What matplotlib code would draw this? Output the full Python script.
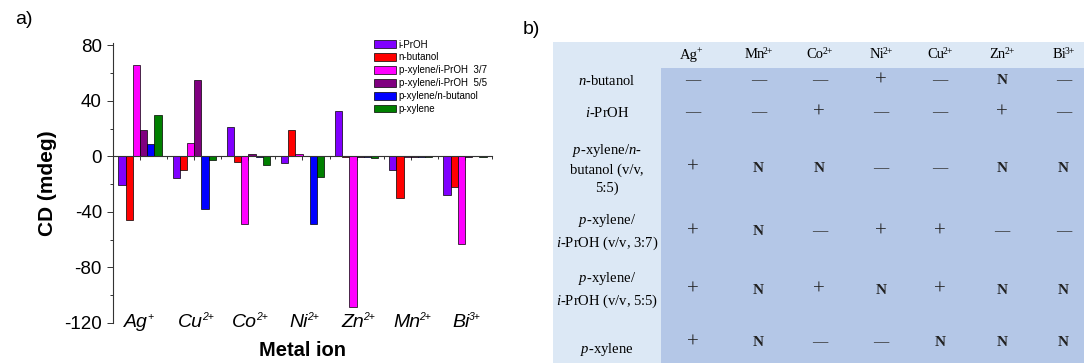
import numpy as np
import matplotlib
matplotlib.use('Agg')
import matplotlib.pyplot as plt
from matplotlib.patches import Rectangle

plt.rcParams['font.family'] = ['Liberation Sans', 'DejaVu Sans']
plt.rcParams['axes.unicode_minus'] = False
plt.rcParams['mathtext.fontset'] = 'custom'
plt.rcParams['mathtext.rm'] = 'Liberation Serif'
plt.rcParams['mathtext.it'] = 'Liberation Serif:italic'
plt.rcParams['mathtext.bf'] = 'Liberation Serif:bold'

# panel a data (CD, mdeg)
ions = ['Ag', 'Cu', 'Co', 'Ni', 'Zn', 'Mn', 'Bi']
charges = ['+', '2+', '2+', '2+', '2+', '2+', '3+']
series_names = ['i-PrOH', 'n-butanol', 'p-xylene/i-PrOH  3/7',
                'p-xylene/i-PrOH  5/5', 'p-xylene/n-butanol', 'p-xylene']
i_proh = [-21, -15.5, 21, -5, 32.5, -10, -28]
n_butanol = [-46, -10, -4, 19, -0.3, -30, -22]
px_iproh_37 = [66, 10, -48.5, 1.8, -109, -0.3, -63]
px_iproh_55 = [19, 55, 1.8, 0.3, -0.3, -0.3, -0.3]
px_nbutanol = [9, -38, -0.5, -48.5, -0.3, -0.3, 0.6]
p_xylene = [30, -2.6, -6.2, -15, -1, -0.3, -0.6]
series = [i_proh, n_butanol, px_iproh_37, px_iproh_55, px_nbutanol, p_xylene]
colors = ['#8000ff', '#ff0000', '#ff00ff', '#800080', '#0000ff', '#008000']

# panel b data
tab_ions = ['Ag', 'Mn', 'Co', 'Ni', 'Cu', 'Zn', 'Bi']
tab_charges = ['+', '2+', '2+', '2+', '2+', '2+', '3+']
tab_rows = ['$\\mathit{n}$-butanol',
            '$\\mathit{i}$-PrOH',
            '$\\mathit{p}$-xylene/$\\mathit{n}$-\nbutanol (v/v,\n5:5)',
            '$\\mathit{p}$-xylene/\n$\\mathit{i}$-PrOH (v/v, 3:7)',
            '$\\mathit{p}$-xylene/\n$\\mathit{i}$-PrOH (v/v, 5:5)',
            '$\\mathit{p}$-xylene']
tab_vals = [['-', '-', '-', '+', '-', 'N', '-'],
            ['-', '-', '+', '-', '-', '+', '-'],
            ['+', 'N', 'N', '-', '-', 'N', 'N'],
            ['+', 'N', '-', '+', '+', '-', '-'],
            ['+', 'N', '+', 'N', '+', 'N', 'N'],
            ['+', 'N', '-', '-', 'N', 'N', 'N']]

W, H = 1084, 363
fig = plt.figure(figsize=(W / 100, H / 100), dpi=100)

# ---- panel a ----
ax = fig.add_axes([113 / W, 1 - 322.7 / H, 379 / W, 280 / H])
x = np.arange(len(ions))
w = 0.133
for j, (vals, c, name) in enumerate(zip(series, colors, series_names)):
    ax.bar(x + (j - 2.5) * w, vals, width=w, color=c, edgecolor='black',
           linewidth=0.5, label=name, zorder=2)

ax.set_xlim(-0.5, 6.5)
ax.set_ylim(-120, 82)
ax.spines['top'].set_visible(False)
ax.spines['right'].set_visible(False)
ax.spines['bottom'].set_position(('data', 0))
for s in ['left', 'bottom']:
    ax.spines[s].set_color('#333333')
    ax.spines[s].set_linewidth(0.8)
ax.set_yticks([80, 40, 0, -40, -80, -120])
ax.set_yticks(np.arange(-100, 81, 40), minor=True)
ax.set_xticks(x)
ax.set_xticks(x + 0.5, minor=True)
ax.set_xticklabels([])
ax.tick_params(axis='y', which='major', length=4, width=0.7, labelsize=13.5, pad=4, color='#333333')
ax.tick_params(axis='y', which='minor', length=2.5, width=0.7, color='#333333')
ax.tick_params(axis='x', which='both', length=3, width=0.7, color='#333333')
ax.tick_params(axis='x', which='minor', length=2)
for i, (ion, ch) in enumerate(zip(ions, charges)):
    base = ax.text(i - 0.07, -120, ion, ha='center', va='center', fontsize=14, style='italic')
    ax.annotate(ch, xy=(1.0, 0.85), xycoords=base, xytext=(-0.8, 0), textcoords='offset points',
                ha='left', va='center', fontsize=7.5, style='italic')
ax.set_xlabel('Metal ion', fontsize=14.5, fontweight='bold')
ax.xaxis.set_label_coords(0.5, -(350.5 - 322.7) / 280)
ax.xaxis.label.set_va('center')
ax.set_ylabel('CD (mdeg)', fontsize=15, fontweight='bold')
ax.yaxis.set_label_coords((47.5 - 113) / 379, 0.5)
ax.yaxis.label.set_va('center')

fig.legend(loc='upper left', bbox_to_anchor=(374 / W, 1 - 39.5 / H), frameon=False,
           fontsize=7, borderpad=0, borderaxespad=0, handlelength=2.3, handleheight=0.8,
           handletextpad=0.25, labelspacing=0.3)

fig.text(15 / W, 1 - 20 / H, 'a)', fontsize=14, ha='left', va='center')
fig.text(523 / W, 1 - 30 / H, 'b)', fontsize=14, ha='left', va='center')

# ---- panel b ----
tb = fig.add_axes([540 / W, 0, (W - 540) / W, 1])
tb.set_xlim(540, W)
tb.set_ylim(H, 0)
tb.axis('off')
tb.add_patch(Rectangle((552.7, 41.7), W - 552.7, H - 41.7, facecolor='#dce8f5', edgecolor='none'))
tb.add_patch(Rectangle((660.5, 68.3), W - 660.5, H - 68.3, facecolor='#b4c7e7', edgecolor='none'))

col_x = [692.7, 758.3, 819.3, 880.7, 940, 1001.7, 1063.3]
head_y = 55
row_y = [81, 113, 168.3, 231.7, 290, 342.7]
label_y = [81, 113, 168.3, 231.7, 290, 350]
label_x = 607
serif = ['Liberation Serif', 'DejaVu Serif']
for cx, ion, ch in zip(col_x, tab_ions, tab_charges):
    base = tb.text(cx - 4, head_y, ion, ha='center', va='center', fontsize=10.5, family=serif)
    tb.annotate(ch, xy=(1.0, 0.8), xycoords=base, xytext=(-1, 0), textcoords='offset points',
                ha='left', va='center', fontsize=7, family=serif)
for ry, ly, lab, vals in zip(row_y, label_y, tab_rows, tab_vals):
    tb.text(label_x, ly, lab, ha='center', va='center', fontsize=10.5, family=serif,
            linespacing=1.45, multialignment='center')
    for cx, v in zip(col_x, vals):
        if v == 'N':
            tb.text(cx, ry, 'N', ha='center', va='center', fontsize=11,
                    fontweight='bold', family=serif, color='#222222')
        elif v == '+':
            tb.text(cx, ry, '+', ha='center', va='center', fontsize=15,
                    family=serif, color='#222222')
        else:
            tb.text(cx, ry, '\u2014', ha='center', va='center', fontsize=11,
                    family=serif, color='#333333')

fig.savefig('out.png', dpi=100)
